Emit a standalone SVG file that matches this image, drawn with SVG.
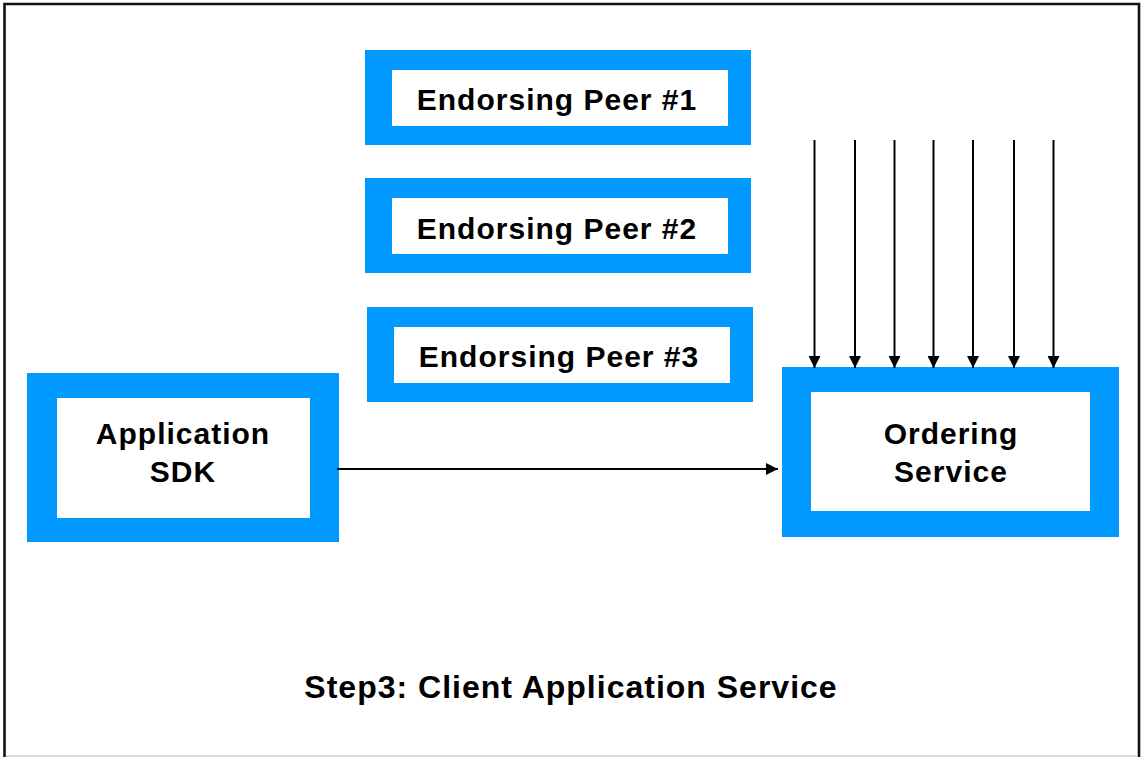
<svg xmlns="http://www.w3.org/2000/svg" width="1141" height="757" viewBox="0 0 1141 757">
  <style>
    .frame { fill: #0099ff; }
    .inner { fill: #ffffff; }
    .label { font-family: "Liberation Sans", Arial, sans-serif; font-weight: bold; font-size: 30px; letter-spacing: 1px; fill: #000000; text-anchor: middle; }
    .title { font-family: "Liberation Sans", Arial, sans-serif; font-weight: bold; font-size: 32px; letter-spacing: 1px; fill: #000000; text-anchor: middle; }
    .wire { stroke: #000000; stroke-width: 2; fill: none; }
  </style>
  <defs>
    <marker id="arrow" viewBox="0 0 10 10" refX="10" refY="5" markerWidth="6" markerHeight="6" markerUnits="strokeWidth" orient="auto">
      <path d="M0,0 L10,5 L0,10 Z" fill="#000000"/>
    </marker>
  </defs>

  <rect x="0" y="0" width="1141" height="757" fill="#ffffff"/>
  <!-- outer border -->
  <path d="M4.5,757 L4.5,4 L1139,4 L1139,757" fill="none" stroke="#111111" stroke-width="2.6"/>
  <line x1="6" y1="756" x2="1138" y2="756" stroke="#cccccc" stroke-width="1.5"/>

  <g id="peer1">
    <rect class="frame" x="365" y="50" width="386" height="95"/>
    <rect class="inner" x="392" y="70" width="336" height="56"/>
    <text class="label" x="557" y="110">Endorsing Peer #1</text>
  </g>

  <g id="peer2">
    <rect class="frame" x="365" y="178" width="386" height="95"/>
    <rect class="inner" x="392" y="198" width="336" height="56"/>
    <text class="label" x="557" y="239">Endorsing Peer #2</text>
  </g>

  <g id="peer3">
    <rect class="frame" x="367" y="307" width="386" height="95"/>
    <rect class="inner" x="394" y="327" width="336" height="56"/>
    <text class="label" x="559" y="367">Endorsing Peer #3</text>
  </g>

  <g id="app-sdk">
    <rect class="frame" x="27" y="373" width="312" height="169"/>
    <rect class="inner" x="57" y="398" width="253" height="120"/>
    <text class="label" x="183" y="444">Application</text>
    <text class="label" x="183" y="482">SDK</text>
  </g>

  <g id="ordering-service">
    <rect class="frame" x="782" y="367" width="337" height="170"/>
    <rect class="inner" x="811" y="392" width="279" height="119"/>
    <text class="label" x="951" y="444">Ordering</text>
    <text class="label" x="951" y="482">Service</text>
  </g>

  <g id="connectors">
    <line class="wire" x1="337" y1="469" x2="778" y2="469" marker-end="url(#arrow)"/>
    <line class="wire" x1="814.5" y1="140" x2="814.5" y2="368" marker-end="url(#arrow)"/>
    <line class="wire" x1="855" y1="140" x2="855" y2="368" marker-end="url(#arrow)"/>
    <line class="wire" x1="894.5" y1="140" x2="894.5" y2="368" marker-end="url(#arrow)"/>
    <line class="wire" x1="933.5" y1="140" x2="933.5" y2="368" marker-end="url(#arrow)"/>
    <line class="wire" x1="973" y1="140" x2="973" y2="368" marker-end="url(#arrow)"/>
    <line class="wire" x1="1014" y1="140" x2="1014" y2="368" marker-end="url(#arrow)"/>
    <line class="wire" x1="1053.5" y1="140" x2="1053.5" y2="368" marker-end="url(#arrow)"/>
  </g>

  <text class="title" x="571" y="698">Step3: Client Application Service</text>
</svg>
